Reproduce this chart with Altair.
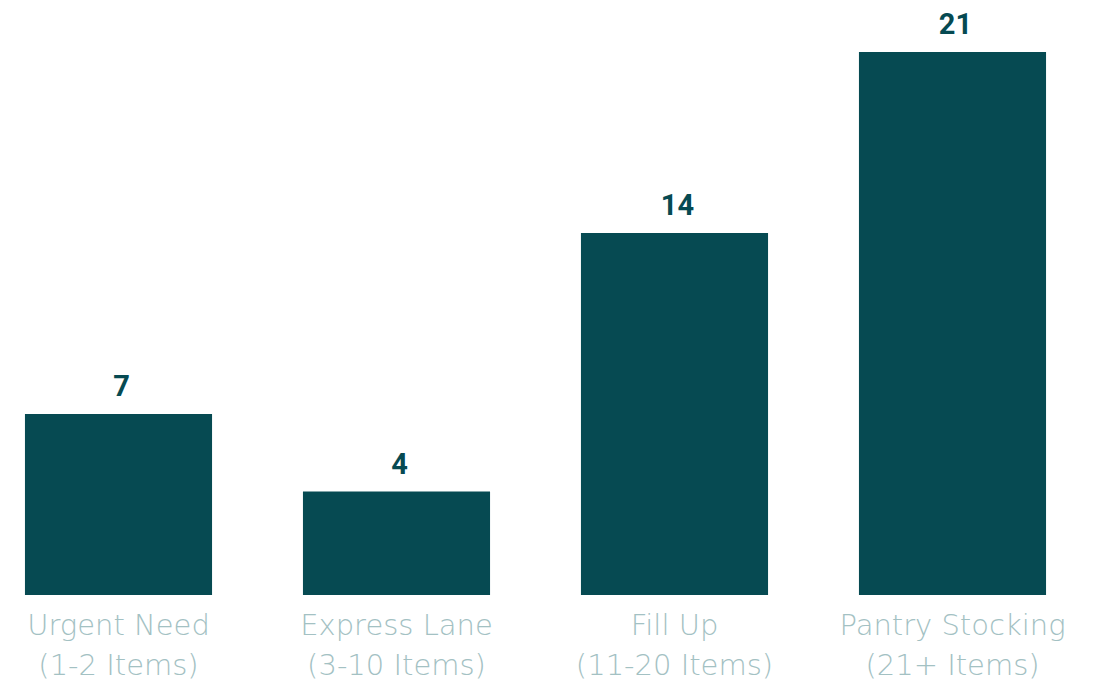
import altair as alt
import pandas as pd

categories = ["Urgent Need|(1-2 Items)", "Express Lane|(3-10 Items)", "Fill Up|(11-20 Items)", "Pantry Stocking|(21+ Items)"]
values = [7, 4, 14, 21]

df = pd.DataFrame({"category": categories, "value": values})

x = alt.X("category:N", sort=categories, title=None,
          scale=alt.Scale(paddingInner=0.327, paddingOuter=0.061),
          axis=alt.Axis(labelAngle=0, domain=False, ticks=False, labelFont="DejaVu Sans",
                        labelFontSize=29, labelFontWeight=300, labelColor="#A3C1C3",
                        labelLimit=0, labelOverlap=False,
                        labelLineHeight=40, labelPadding=16, labelExpr="split(datum.label, '|')"))
y = alt.Y("value:Q", title=None, scale=alt.Scale(domain=[0, 21], nice=False, zero=True), axis=None)

base = alt.Chart(df)
bars = base.mark_bar(color="#064A52").encode(x=x, y=y)
labels = base.mark_text(baseline="alphabetic", dy=-18, dx=3, font="Roboto", fontWeight="bold",
                        fontSize=29, color="#064A52").encode(x=x, y=y, text="value:Q")

chart = (bars + labels).properties(
    width=1055, height=543,
    autosize=alt.AutoSizeParams(type="none"),
    padding={"left": 0, "top": 44, "right": 20, "bottom": 90},
).configure(background="white").configure_view(strokeWidth=0, stroke="transparent")

chart.save("out.html", embed_options={"renderer": "svg", "actions": False})
